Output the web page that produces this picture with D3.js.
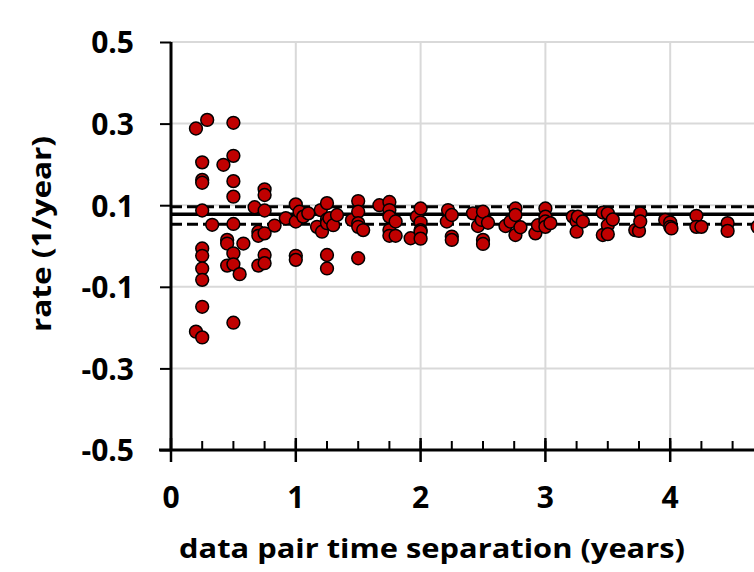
<!DOCTYPE html>
<html>
<head>
<meta charset="utf-8">
<script src="https://cdn.jsdelivr.net/npm/d3@7"></script>
<style>
  html, body { margin: 0; padding: 0; background: #fff; }
  svg { display: block; }
  text { font-family: "Open Sans", Lato, sans-serif; font-weight: 700; fill: #000; }
</style>
</head>
<body>
<svg id="chart" width="754" height="572"></svg>
<script>
// Pair separation (years) and the rate computed for each data pair (1/year)
const separation = [
  0.2, 0.2,
  0.25, 0.25, 0.25, 0.25, 0.25, 0.25, 0.25, 0.25, 0.25, 0.25,
  0.29, 0.33, 0.42,
  0.45, 0.45, 0.45,
  0.5, 0.5, 0.5, 0.5, 0.5, 0.5, 0.5, 0.5,
  0.55, 0.58, 0.67,
  0.7, 0.7, 0.7,
  0.75, 0.75, 0.75, 0.75, 0.75, 0.75,
  0.83, 0.92,
  1.0, 1.0, 1.0, 1.0,
  1.03, 1.06, 1.1, 1.17, 1.2, 1.21,
  1.25, 1.25, 1.25, 1.25, 1.25, 1.27, 1.3, 1.33,
  1.45, 1.5, 1.5, 1.5, 1.5, 1.5, 1.54,
  1.67, 1.75, 1.75, 1.75, 1.75, 1.75, 1.8, 1.8, 1.92, 1.97,
  2.0, 2.0, 2.0, 2.0, 2.0,
  2.21, 2.22, 2.25, 2.25, 2.25,
  2.42, 2.46, 2.49, 2.5, 2.5, 2.5, 2.54,
  2.68, 2.72, 2.76, 2.76, 2.76, 2.8,
  2.92, 2.94, 3.0, 3.0, 3.0, 3.0, 3.04,
  3.22, 3.25, 3.25, 3.26, 3.3,
  3.46, 3.46, 3.5, 3.5, 3.5, 3.54,
  3.72, 3.75, 3.76, 3.76,
  3.96, 4.0, 4.0, 4.01,
  4.21, 4.21, 4.25,
  4.46, 4.46, 4.7
];
const rate = [
  0.288, -0.210,
  0.205, 0.162, 0.155, 0.087, -0.006, -0.024, -0.055, -0.083, -0.149, -0.224,
  0.309, 0.052, 0.199,
  0.015, 0.006, -0.048,
  0.302, 0.221, 0.159, 0.121, 0.054, -0.018, -0.045, -0.188,
  -0.069, 0.006, 0.095,
  0.035, 0.025, -0.048,
  0.139, 0.125, 0.087, 0.031, -0.022, -0.042,
  0.050, 0.068,
  0.102, 0.060, -0.024, -0.034,
  0.084, 0.072, 0.080, 0.047, 0.088, 0.035,
  0.105, 0.065, 0.056, -0.022, -0.055, 0.068, 0.051, 0.076,
  0.064, 0.110, 0.084, 0.056, 0.047, -0.030, 0.039,
  0.100, 0.108, 0.088, 0.072, 0.039, 0.025, 0.060, 0.025, 0.019, 0.072,
  0.092, 0.058, 0.039, 0.035, 0.018,
  0.060, 0.088, 0.076, 0.023, 0.015,
  0.080, 0.049, 0.064, 0.084, 0.015, 0.005, 0.057,
  0.049, 0.060, 0.092, 0.076, 0.027, 0.046,
  0.031, 0.051, 0.092, 0.072, 0.060, 0.047, 0.056,
  0.072, 0.060, 0.035, 0.072, 0.060,
  0.082, 0.027, 0.080, 0.051, 0.029, 0.065,
  0.039, 0.037, 0.080, 0.060,
  0.064, 0.058, 0.047, 0.043,
  0.074, 0.047, 0.047,
  0.056, 0.037, 0.047
];

// Mean rate and its confidence band
const meanRate = 0.0777;
const bandRates = [0.0963, 0.0532];

const xTicks = [0, 1, 2, 3, 4, 5];
const xTickLabels = ["0", "1", "2", "3", "4"];
const xMinorTicks = d3.range(0, 5.01, 0.25);
const yTicks = [0.5, 0.3, 0.1, -0.1, -0.3, -0.5];

const svg = d3.select("#chart");
const W = 754, H = 572;

const x = d3.scaleLinear().domain([0, 5]).range([171, 171 + 5 * 124.8]);
const y = d3.scaleLinear().domain([-0.5, 0.5]).range([450, 42]);

// Gridlines
const grid = svg.append("g").attr("stroke", "#d9d9d9").attr("stroke-width", 2);
grid.selectAll("line.gy").data(yTicks.filter(d => d !== -0.5)).join("line")
  .attr("x1", x(0)).attr("x2", W).attr("y1", d => y(d)).attr("y2", d => y(d));
grid.selectAll("line.gx").data(xTicks.filter(d => d !== 0)).join("line")
  .attr("x1", d => x(d)).attr("x2", d => x(d)).attr("y1", y(0.5)).attr("y2", y(-0.5));

// Mean and band lines
svg.append("line")
  .attr("x1", x(0)).attr("x2", W).attr("y1", y(meanRate)).attr("y2", y(meanRate))
  .attr("stroke", "#000").attr("stroke-width", 3.5);
svg.selectAll("line.band").data(bandRates).join("line")
  .attr("class", "band")
  .attr("x1", x(0)).attr("x2", W).attr("y1", d => y(d)).attr("y2", d => y(d))
  .attr("stroke", "#000").attr("stroke-width", 3).attr("stroke-dasharray", "11,5");

// Points
const pts = separation.map((s, i) => ({ s, r: rate[i] }));
svg.append("g").selectAll("circle").data(pts).join("circle")
  .attr("cx", d => x(d.s)).attr("cy", d => y(d.r)).attr("r", 6.4)
  .attr("fill", "#c00000").attr("stroke", "#000").attr("stroke-width", 1.5);

// Y axis
const yAxis = svg.append("g").attr("transform", `translate(${x(0)},0)`)
  .call(d3.axisLeft(y).tickValues(yTicks).tickSize(11).tickPadding(26)
    .tickFormat(d => d.toFixed(1)));
yAxis.attr("font-family", null).attr("font-size", null);
yAxis.select(".domain").attr("stroke", "#000").attr("stroke-width", 3)
  .attr("d", `M0,${y(0.5)}V${y(-0.5)}`);
yAxis.selectAll(".tick line").attr("stroke", "#000").attr("stroke-width", 2);
yAxis.selectAll(".tick text").style("font-size", "30px").attr("dy", "0.36em");

// X axis
const xAxisG = svg.append("g").attr("transform", `translate(0,${y(-0.5)})`);
xAxisG.append("line").attr("x1", x(0) - 12).attr("x2", W)
  .attr("stroke", "#000").attr("stroke-width", 3);
xAxisG.selectAll("line.minor").data(xMinorTicks).join("line")
  .attr("x1", d => x(d)).attr("x2", d => x(d)).attr("y1", -9).attr("y2", 0)
  .attr("stroke", "#000").attr("stroke-width", 2);
xAxisG.selectAll("line.major").data(xTicks).join("line")
  .attr("x1", d => x(d)).attr("x2", d => x(d)).attr("y1", -12).attr("y2", 12)
  .attr("stroke", "#000").attr("stroke-width", 2.5);
xAxisG.selectAll("text").data(xTickLabels).join("text")
  .attr("x", d => x(+d)).attr("y", 58).attr("text-anchor", "middle")
  .style("font-size", "30px").text(d => d);

// Axis titles
svg.append("text").attr("x", 432).attr("y", 558).attr("text-anchor", "middle")
  .attr("textLength", 506).attr("lengthAdjust", "spacingAndGlyphs")
  .style("font-size", "27px").text("data pair time separation (years)");
svg.append("text").attr("transform", "translate(51,234) rotate(-90)")
  .attr("text-anchor", "middle")
  .attr("textLength", 196).attr("lengthAdjust", "spacingAndGlyphs")
  .style("font-size", "27px").text("rate (1/year)");
</script>
</body>
</html>
